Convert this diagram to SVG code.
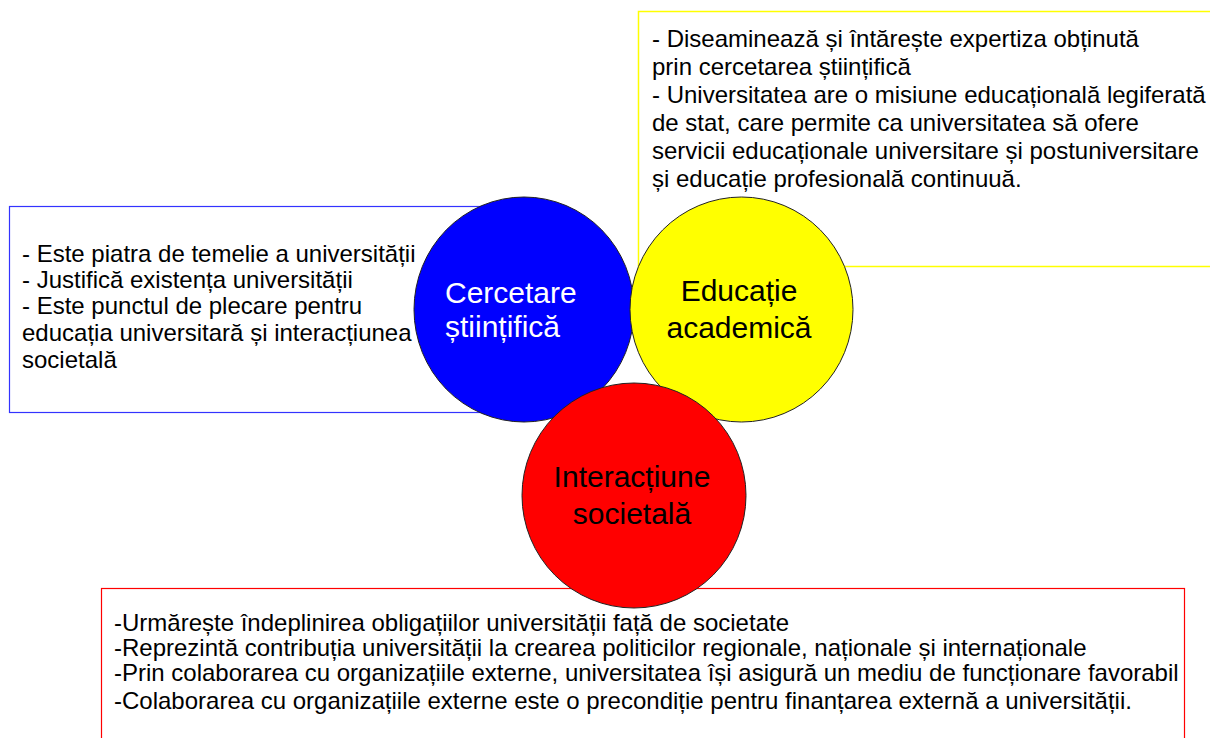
<svg xmlns="http://www.w3.org/2000/svg" width="1210" height="738" viewBox="0 0 1210 738">
<style>
.t{font-family:"Liberation Sans",Arial,sans-serif;font-size:24px;fill:#000}
.lbl{font-family:"Liberation Sans",Arial,sans-serif;font-size:30px}
.circ{stroke:#222;stroke-width:1}
</style>
<rect x="0" y="0" width="1210" height="738" fill="#fff"/>
<g id="box-educatie">
<rect x="638.5" y="11.5" width="600" height="255" fill="#fff" stroke="#ffff00" stroke-width="1.5"/>
<text class="t" x="652" y="47">- Diseaminează și întărește expertiza obținută</text>
<text class="t" x="652" y="75">prin cercetarea științifică</text>
<text class="t" x="652" y="103">- Universitatea are o misiune educațională legiferată</text>
<text class="t" x="652" y="131">de stat, care permite ca universitatea să ofere</text>
<text class="t" x="652" y="159">servicii educaționale universitare și postuniversitare</text>
<text class="t" x="652" y="187">și educație profesională continuuă.</text>
</g>
<g id="box-cercetare">
<rect x="9.5" y="206.5" width="480" height="206" fill="#fff" stroke="#3333ff" stroke-width="1.2"/>
<text class="t" x="22" y="262">- Este piatra de temelie a universității</text>
<text class="t" x="22" y="288">- Justifică existența universității</text>
<text class="t" x="22" y="314">- Este punctul de plecare pentru</text>
<text class="t" x="22" y="341">educația universitară și interacțiunea</text>
<text class="t" x="22" y="368">societală</text>
</g>
<g id="box-interactiune">
<rect x="101.5" y="588.5" width="1083" height="170" fill="#fff" stroke="#ff0000" stroke-width="1.2"/>
<text class="t" x="114" y="631">-Urmărește îndeplinirea obligațiilor universității față de societate</text>
<text class="t" x="114" y="656">-Reprezintă contribuția universității la crearea politicilor regionale, naționale și internaționale</text>
<text class="t" x="114" y="681">-Prin colaborarea cu organizațiile externe, universitatea își asigură un mediu de funcționare favorabil</text>
<text class="t" x="114" y="709">-Colaborarea cu organizațiile externe este o precondiție pentru finanțarea externă a universității.</text>
</g>
<g id="connectors"></g>
<g id="node-cercetare">
<ellipse class="circ" cx="524" cy="309.5" rx="110" ry="112.5" fill="#0000ff"/>
<text class="lbl" fill="#fff" x="445" y="303">Cercetare</text>
<text class="lbl" fill="#fff" x="445" y="337">științifică</text>
</g>
<g id="node-educatie">
<ellipse class="circ" cx="741.5" cy="309.5" rx="111.5" ry="112.5" fill="#ffff00"/>
<text class="lbl" fill="#000" x="739" y="301" text-anchor="middle">Educație</text>
<text class="lbl" fill="#000" x="739" y="338" text-anchor="middle">academică</text>
</g>
<g id="node-interactiune">
<ellipse class="circ" cx="634" cy="495.5" rx="112" ry="112.5" fill="#ff0000"/>
<text class="lbl" fill="#000" x="632" y="487" text-anchor="middle">Interacțiune</text>
<text class="lbl" fill="#000" x="632" y="524" text-anchor="middle">societală</text>
</g>
</svg>
